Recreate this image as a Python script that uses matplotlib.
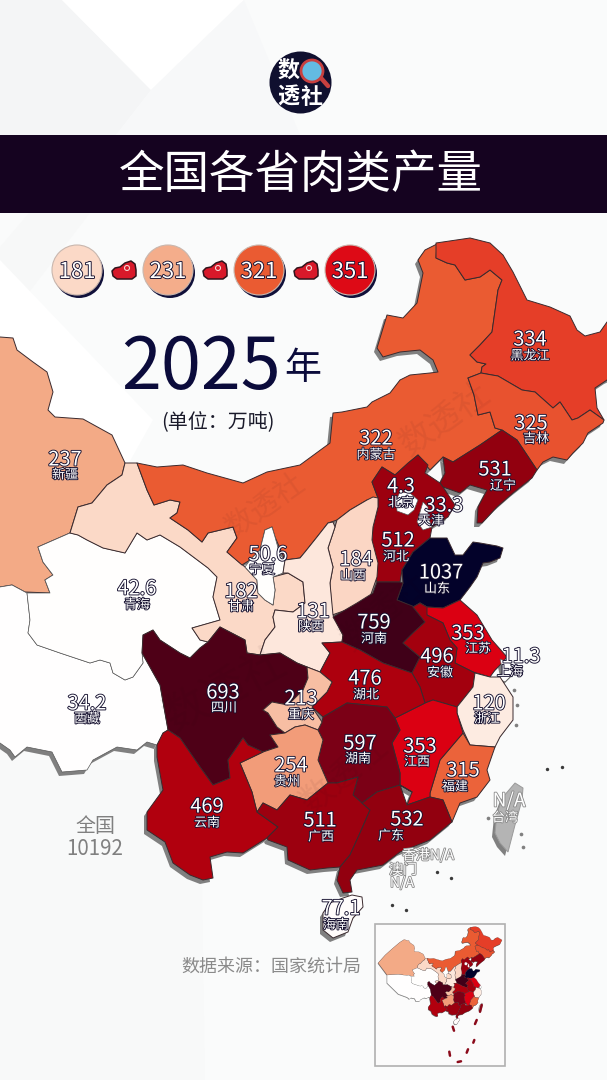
import matplotlib
matplotlib.use('Agg')
import matplotlib.pyplot as plt
import matplotlib.patheffects as pe
from matplotlib.colors import LinearSegmentedColormap, Normalize
from matplotlib.patches import Circle, Rectangle, Polygon
from matplotlib.transforms import Affine2D

plt.rcParams['font.family'] = ['Noto Sans CJK SC', 'DejaVu Sans']

# ---- data ----
provinces = ['新疆','西藏','青海','甘肃','内蒙古','黑龙江','吉林','辽宁','河北','北京','天津','山东','山西','宁夏','陕西',
             '河南','江苏','上海','安徽','浙江','福建','江西','湖北','湖南','四川','重庆','贵州','云南','广西','广东','海南']
values = [237,34.2,42.6,182,322,334,325,531,512,4.3,33.3,1037,184,50.6,131,
          759,353,11.3,496,120,315,353,476,597,693,213,254,469,511,532,77.1]
legend_values = [181,231,321,351]
year = '2025'
total = 10192
scale_values = [0,50,78,120,181,237,254,321,334,353,470,530,600,693,759,1037]
scale_colors = ['#FFFFFF','#FFFEFD','#FFFCFB','#FDEAE0','#FBD8C6','#F3A985','#F29A77','#EA5C32','#E53D28','#DB0012','#B0000E','#93000F','#7A0016','#4F0017','#400018','#03022A']

# province outlines (geographic shapes on the canvas)
XJ=[(-138,584),(-200,498),(-150,440),(-97,391),(-50,350),(-20,330),(0,337),(13,338),(17,350),(33,362),(47,372),(53,392),(48,410),(55,417),(83,419),(112,435),(125,463),(122,475),(107,485),(92,503),(78,507),(70,533),(38,547),(43,562),(53,575),(45,580),(50,593),(25,592),(12,585),(0,587),(-60,580)]
XZ=[(-138,641),(-138,584),(-60,580),(0,587),(12,585),(25,592),(27,593),(30,620),(28,633),(37,645),(60,653),(90,663),(100,660),(110,663),(113,673),(125,680),(133,677),(143,663),(142,653),(160,685),(168,730),(163,733),(157,745),(147,742),(137,750),(117,747),(93,760),(87,770),(62,772),(52,752),(27,747),(15,757),(10,750),(0,743),(-60,720)]
QH=[(38,547),(70,533),(78,535),(87,540),(103,548),(125,553),(137,533),(147,540),(160,535),(180,547),(208,568),(217,577),(213,597),(220,620),(213,622),(192,628),(200,640),(208,642),(200,648),(190,658),(180,653),(160,640),(153,630),(143,635),(142,653),(143,663),(133,677),(125,680),(113,673),(110,663),(100,660),(90,663),(60,653),(37,645),(28,633),(30,620),(27,593),(50,593),(45,580),(53,575),(43,562)]
GS=[(125,463),(137,463),(147,490),(154,505),(170,500),(180,502),(177,513),(170,518),(188,530),(202,542),(208,533),(233,527),(237,538),(227,552),(245,567),(257,580),(258,593),(265,600),(273,605),(275,590),(273,577),(288,573),(303,582),(305,603),(293,612),(275,610),(273,617),(275,627),(265,640),(260,655),(247,653),(245,640),(220,627),(208,642),(200,640),(192,628),(213,622),(220,620),(213,597),(217,577),(208,568),(180,547),(160,535),(147,540),(137,533),(125,553),(103,548),(87,540),(78,535),(70,533),(78,507),(92,503),(107,485),(122,475)]
NM=[(137,463),(157,467),(183,465),(207,473),(243,483),(267,472),(300,465),(330,443),(333,413),(342,412),(367,407),(372,402),(390,393),(400,380),(410,375),(430,373),(438,372),(433,360),(420,350),(400,352),(383,357),(377,348),(387,315),(403,318),(417,303),(423,273),(418,260),(425,250),(437,244),(436,258),(447,263),(455,265),(465,280),(480,277),(490,270),(502,280),(498,290),(494,318),(492,332),(480,345),(470,355),(477,362),(486,364),(482,367),(481,373),(468,378),(474,395),(478,415),(490,412),(495,428),(502,430),(480,445),(453,462),(443,457),(430,470),(418,455),(395,475),(382,467),(372,482),(378,498),(367,500),(350,510),(337,520),(328,523),(317,537),(305,552),(300,558),(285,560),(275,537),(272,527),(265,530),(260,550),(250,560),(242,565),(227,552),(237,538),(233,527),(208,533),(202,542),(188,530),(170,518),(177,513),(180,502),(170,500),(154,505),(147,490)]
HLJ=[(436,243),(470,238),(490,243),(503,255),(513,272),(527,300),(550,307),(570,316),(577,330),(585,336),(600,332),(607,322),(625,315),(655,334),(640,365),(607,380),(595,388),(597,408),(604,420),(590,410),(578,418),(572,420),(560,402),(553,408),(535,392),(522,390),(498,376),(492,375),(481,373),(482,367),(486,364),(477,362),(470,355),(480,345),(492,332),(494,318),(498,290),(502,280),(490,270),(480,277),(465,280),(455,265),(447,263),(436,258)]
JL=[(468,378),(481,373),(492,375),(498,376),(522,390),(535,392),(553,408),(560,402),(572,420),(578,418),(590,410),(604,420),(603,423),(588,433),(583,443),(573,453),(567,460),(553,457),(543,462),(537,470),(517,440),(502,430),(495,428),(490,412),(478,415),(474,395)]
LN=[(502,430),(517,440),(537,470),(532,478),(513,493),(497,507),(482,523),(477,523),(478,507),(487,490),(470,485),(460,493),(443,487),(440,483),(445,473),(443,457),(453,462),(480,445)]
HEB=[(418,455),(428,465),(425,473),(440,483),(443,487),(455,505),(448,517),(432,527),(430,538),(413,552),(402,570),(400,582),(377,582),(373,568),(372,540),(373,527),(378,507),(378,498),(372,482),(382,467),(395,475),(408,463)]
BJ=[(400,492),(410,493),(418,500),(414,510),(408,515),(397,511),(396,500)]
TJ=[(423,502),(428,507),(428,517),(432,527),(423,530),(417,522),(420,512)]
SD=[(430,538),(447,538),(455,555),(463,555),(473,542),(480,543),(497,546),(503,548),(500,558),(490,562),(483,563),(477,577),(470,587),(460,600),(443,608),(427,607),(420,603),(413,607),(397,600),(403,583),(402,570),(413,552)]
SX=[(373,497),(378,498),(378,507),(373,527),(372,540),(378,563),(377,577),(370,597),(355,607),(332,615),(330,583),(333,567),(328,548),(335,527),(337,520),(350,510),(367,500)]
NX=[(272,527),(275,537),(280,555),(285,560),(283,573),(273,577),(275,590),(273,605),(265,600),(258,593),(257,580),(245,567),(250,560),(260,550),(265,530)]
SAX=[(333,522),(328,523),(317,537),(305,552),(300,558),(285,560),(283,573),(288,573),(303,582),(305,603),(293,612),(275,610),(273,617),(275,627),(265,640),(260,655),(280,653),(297,663),(307,667),(320,672),(330,653),(322,643),(342,642),(343,635),(333,615),(330,583),(333,567),(328,548),(335,527)]
HEN=[(377,582),(400,582),(403,583),(397,600),(415,607),(425,622),(413,633),(403,643),(420,657),(412,673),(383,663),(360,650),(342,642),(343,635),(333,617),(357,603),(373,593)]
AH=[(420,603),(427,607),(427,615),(443,623),(450,640),(457,648),(455,663),(475,673),(473,687),(457,707),(433,700),(425,703),(420,687),(412,673),(420,657),(403,643),(413,633),(425,622),(413,607)]
JS=[(460,600),(477,615),(492,640),(507,657),(500,665),(495,670),(490,677),(473,672),(455,663),(457,648),(450,640),(443,623),(427,615),(420,603),(427,607),(443,608)]
SH=[(500,659),(510,663),(515,672),(505,682),(497,678),(503,672)]
ZJ=[(475,673),(490,677),(500,677),(513,697),(513,720),(500,737),(495,747),(470,745),(463,730),(457,713),(457,707),(473,687)]
FJ=[(495,747),(487,770),(490,780),(477,797),(460,803),(452,822),(443,800),(430,797),(430,793),(440,760),(463,733),(470,745)]
JX=[(395,718),(425,703),(433,700),(457,707),(457,713),(463,733),(440,760),(430,793),(430,797),(407,805),(412,792),(400,785),(400,773),(392,743),(400,730)]
HUB=[(322,643),(342,642),(360,650),(383,663),(412,673),(420,687),(425,703),(395,718),(387,707),(347,703),(323,717),(312,707),(327,692),(332,682),(320,672),(330,653)]
HUN=[(323,717),(347,703),(387,707),(395,718),(400,730),(392,743),(400,773),(400,785),(377,792),(362,803),(353,795),(358,777),(337,783),(328,783),(318,760),(323,740),(318,730),(322,722)]
GD=[(412,792),(400,785),(407,805),(430,797),(443,800),(452,822),(430,840),(400,852),(383,865),(357,870),(350,880),(352,892),(343,893),(337,880),(340,867),(350,855),(360,833),(370,810),(362,803),(377,792),(400,785)]
GX=[(257,812),(263,803),(277,810),(290,795),(307,800),(328,783),(337,783),(358,777),(353,795),(362,803),(370,810),(360,833),(350,855),(340,867),(327,868),(310,870),(288,860),(287,847),(268,840),(267,838),(278,827)]
YN=[(163,733),(168,730),(180,738),(200,767),(213,785),(230,778),(228,760),(243,738),(248,745),(263,752),(240,763),(252,792),(257,812),(278,827),(267,838),(243,853),(227,852),(210,857),(213,878),(203,880),(190,875),(173,863),(165,842),(147,830),(147,812),(163,790),(157,757),(157,745)]
SC=[(143,635),(153,630),(160,640),(180,653),(190,658),(200,648),(208,642),(220,627),(245,640),(247,653),(260,655),(280,653),(297,663),(307,667),(308,678),(303,690),(288,705),(272,702),(263,710),(268,713),(277,727),(285,733),(270,735),(278,747),(263,752),(248,745),(243,738),(228,760),(230,778),(213,785),(200,767),(180,738),(168,730),(160,685),(142,653)]
CQ=[(307,667),(320,672),(332,682),(327,692),(312,707),(322,722),(318,730),(305,725),(295,727),(285,733),(277,727),(268,713),(263,710),(272,702),(288,705),(303,690),(308,678)]
GZ=[(263,752),(278,747),(270,735),(285,733),(295,727),(305,725),(318,730),(323,740),(318,760),(328,783),(307,800),(290,795),(277,810),(263,803),(257,812),(252,792),(240,763)]
HN=[(352,895),(362,897),(363,907),(353,918),(348,932),(333,938),(323,930),(323,913),(330,903),(343,898)]
TW=[(515,783),(523,788),(522,800),(515,825),(508,852),(500,843),(495,833),(497,813),(503,797)]
MEAT=[(-12,1),(-9,-2),(-4,-3),(1,-7),(7,-9),(11,-6),(12,0),(12,6),(8,9),(-7,9),(-11,6)]

outlines = {'新疆':XJ,'西藏':XZ,'青海':QH,'甘肃':GS,'内蒙古':NM,'黑龙江':HLJ,'吉林':JL,'辽宁':LN,'河北':HEB,'北京':BJ,'天津':TJ,'山东':SD,'山西':SX,'宁夏':NX,'陕西':SAX,
            '河南':HEN,'江苏':JS,'上海':SH,'安徽':AH,'浙江':ZJ,'福建':FJ,'江西':JX,'湖北':HUB,'湖南':HUN,'四川':SC,'重庆':CQ,'贵州':GZ,'云南':YN,'广西':GX,'广东':GD,'海南':HN}
value_pos = {'黑龙江':(530,338),'吉林':(531,422),'内蒙古':(376,437),'辽宁':(495,468),'北京':(401,485),'天津':(444,504),'河北':(398,539),'山东':(441,571),'山西':(356,558),'宁夏':(268,553),'甘肃':(241,590),'青海':(137,587),'新疆':(65,458),'陕西':(313,610),'河南':(374,621),'江苏':(468,632),'安徽':(437,655),'上海':(521,655),'浙江':(489,702),'四川':(223,691),'重庆':(301,697),'湖北':(365,677),'湖南':(360,742),'江西':(420,745),'福建':(463,769),'贵州':(291,764),'云南':(207,805),'广西':(320,819),'广东':(407,818),'海南':(341,907),'西藏':(87,702)}
name_pos = {'黑龙江':(530,354),'吉林':(536,437),'内蒙古':(376,453),'辽宁':(503,484),'北京':(401,501),'天津':(431,519),'河北':(396,555),'山东':(437,587),'山西':(353,574),'宁夏':(262,568),'甘肃':(241,605),'青海':(137,603),'新疆':(65,473),'陕西':(311,625),'河南':(374,637),'江苏':(478,647),'安徽':(440,671),'上海':(510,670),'浙江':(487,717),'四川':(224,706),'重庆':(301,713),'湖北':(366,693),'湖南':(358,757),'江西':(417,760),'福建':(455,785),'贵州':(287,780),'云南':(207,821),'广西':(321,835),'广东':(391,834),'海南':(336,923),'西藏':(87,717)}

cmap = LinearSegmentedColormap.from_list('meat', [(v/1037, c) for v, c in zip(scale_values, scale_colors)])
norm = Normalize(0, 1037)

fig = plt.figure(figsize=(6.07, 10.8), dpi=100)
ax = fig.add_axes([0, 0, 1, 1])
ax.set_xlim(0, 607); ax.set_ylim(1080, 0); ax.axis('off')
fig.patch.set_facecolor('#FAFBFB')
PX = 0.72
DY = 2

# background facets
for pts, c in [([(0,0),(62,0),(151,90),(116,135),(0,135)],'#F4F5F6'),
               ([(62,0),(244,0),(151,90)],'#FFFFFF'),
               ([(244,0),(151,90),(116,135),(300,135)],'#F7F8F9'),
               ([(0,247),(29,213),(90,213),(0,330)],'#F7F8F8'),
               ([(0,260),(67,330),(153,420),(125,470),(0,470)],'#FFFFFF'),
               ([(0,760),(200,760),(205,1080),(0,1080)],'#F8F9F9')]:
    ax.add_patch(Polygon(pts, closed=True, fc=c, ec='none', zorder=0))

# logo
ax.add_patch(Circle((300.5,82.5), 31, fc='#10102F', ec='none', zorder=2))
ax.plot([321,328],[78,86], color='#C8403F', lw=3.2, solid_capstyle='round', zorder=3)
ax.add_patch(Circle((312,71), 11, fc='#63BBE2', ec='#C8403F', lw=2, zorder=3))
for t, x, y in [('数',288,69),('透',288,95),('社',312,95)]:
    ax.text(x, y+DY, t, color='white', fontsize=22*PX, fontweight='bold', ha='center', va='center', zorder=4)

# banner
ax.add_patch(Rectangle((0,135), 607, 78, fc='#150320', ec='none', zorder=2))
ax.text(300.5, 173+DY, '全国各省肉类产量', color='white', fontsize=45.5*PX, ha='center', va='center', zorder=3)

# year block
ax.text(200.5, 368, year, color='#0B0B3B', fontsize=72*PX, ha='center', va='center', zorder=6)
ax.text(303, 369, '年', color='#0B0B3B', fontsize=37*PX, ha='center', va='center', zorder=6)
ax.text(218, 421+DY, '(单位：万吨)', color='#1A1A2A', fontsize=20*PX, ha='center', va='center', zorder=6)

stroke = [pe.withStroke(linewidth=1.3, foreground='#15102F')]
gstroke = [pe.withStroke(linewidth=1.2, foreground='#8A8A8A')]

# legend
for v, cx, mx in zip(legend_values, [77,168,259,350], [124,215,306,None]):
    ax.add_patch(Circle((cx+2,273), 25, fc='#10103A', ec='none', zorder=3))
    ax.add_patch(Circle((cx,270), 25, fc=cmap(norm(v)), ec='#C9B7AE', lw=0.8, zorder=4))
    ax.text(cx, 272, str(v), color='white', fontsize=22*PX, ha='center', va='center', zorder=5, path_effects=stroke)
    if mx:
        ax.add_patch(Polygon(MEAT, closed=True, fc='#D8192A', ec='#30141C', lw=1.1, joinstyle='round', zorder=4,
                             transform=Affine2D().translate(mx,270) + ax.transData))
        ax.add_patch(Circle((mx+3,268), 2.5, fc='#D8192A', ec='#F5D5D0', lw=0.8, zorder=5))

# map shadow + provinces
def draw_map(trans, lw, shadow, zbase):
    off = Affine2D().translate(*shadow)
    for name in provinces:
        ax.add_patch(Polygon(outlines[name], closed=True, fc='#808080', ec='none', zorder=zbase,
                             transform=off + trans + ax.transData))
    ax.add_patch(Polygon(TW, closed=True, fc='#808080', ec='none', zorder=zbase, transform=off + trans + ax.transData))
    for i, (name, v) in enumerate(zip(provinces, values)):
        ec = '#555555' if v < 60 else '#3A2A2E'
        ax.add_patch(Polygon(outlines[name], closed=True, fc=cmap(norm(v)), ec=ec, lw=lw*(0.7 if v < 60 else 1), joinstyle='round',
                             zorder=zbase+1+i*0.01, transform=trans + ax.transData))
    ax.add_patch(Polygon(TW, closed=True, fc='#B4B4B4', ec='#9A9A9A', lw=lw, zorder=zbase+1, transform=trans + ax.transData))

draw_map(Affine2D(), 0.7, (-3,4), 7)

# islands in main map
isl_x = [437,451,392,406,547,562]
isl_y = [872,878,905,910,769,767]
ax.scatter(isl_x, isl_y, s=6, c='#3A3A3A', zorder=9, linewidths=0)
gray_x = [488,521,523,514,517,516]
gray_y = [818,834,847,690,705,725]
ax.scatter(gray_x, gray_y, s=7, c='#808080', zorder=9, linewidths=0)

# watermarks
for x, y, r, s in [(225,690,28,44),(265,505,35,30),(445,420,35,34),(385,612,40,34),(345,775,40,34)]:
    ax.text(x, y, '数透社', color='#200010', alpha=0.06, fontsize=s*PX, rotation=r, ha='center', va='center', zorder=9)

# labels
for name, v in zip(provinces, values):
    vx, vy = value_pos[name]
    nx, ny = name_pos[name]
    ax.text(vx, vy+DY, f'{v:g}', color='white', fontsize=20*PX, ha='center', va='center', zorder=12, path_effects=stroke)
    ax.text(nx, ny+DY, name, color='white', fontsize=13*PX, ha='center', va='center', zorder=12, path_effects=stroke)
for t, x, y, s in [('N/A',509,799,19),('台湾',505,816,13),('香港N/A',428,853,14),('澳门',403,868,14),('N/A',402,881,14)]:
    ax.text(x, y+DY, t, color='white', fontsize=s*PX, ha='center', va='center', zorder=12, path_effects=gstroke)

ax.text(95, 825+DY, '全国', color='#808080', fontsize=20*PX, ha='center', va='center', zorder=6)
ax.text(95, 847+DY, f'{total}', color='#808080', fontsize=20.5*PX, ha='center', va='center', zorder=6)
ax.text(271.5, 965+DY, '数据来源：国家统计局', color='#8A8A8A', fontsize=18*PX, ha='center', va='center', zorder=6)

# inset
ax.add_patch(Rectangle((375,924), 130, 142, fc='#FBFBFB', ec='#B0B0B0', lw=1.2, zorder=15))
inset = Affine2D().translate(-503,-548).scale(0.145,0.14).translate(480,970)
draw_map(inset, 0.15, (-3,4), 16)
dash_x = [(481.7,480),(476.7,475),(474.3,473.3),(468,466.7),(452.7,454),(449.3,450),(457.7,461)]
dash_y = [(1005,1011.7),(1020,1024),(1040,1042.7),(1049.3,1052.7),(1026.7,1030.7),(1051.7,1055.7),(1062,1061.3)]
for dx, dy in zip(dash_x, dash_y):
    ax.plot(dx, dy, color='#8B0A1A', lw=1.8, solid_capstyle='round', zorder=18)

fig.savefig('out.png', dpi=100, facecolor=fig.get_facecolor())
